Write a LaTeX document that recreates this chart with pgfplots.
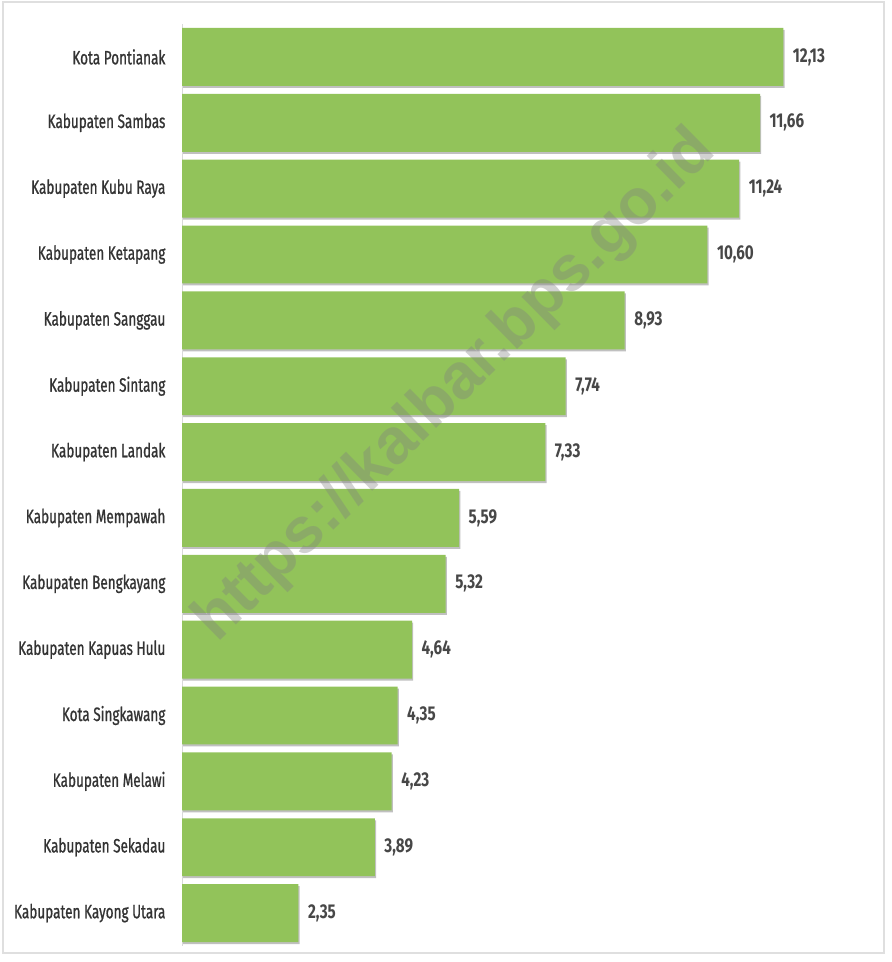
\documentclass[border=0pt]{standalone}
\usepackage{fontspec}
\usepackage{pgfplots}
\pgfplotsset{compat=1.18}
\usetikzlibrary{shadows}
\setmainfont{Fira Sans}
\newfontfamily\labfont{Fira Sans}[FakeStretch=0.70, FakeBold=0.9]
\newfontfamily\valfont{Fira Sans}[FakeStretch=0.76]
\newfontfamily\wmfont{Liberation Sans}
\definecolor{bargreen}{HTML}{92C35A}
\definecolor{labgray}{HTML}{333333}
\definecolor{valgray}{HTML}{474747}
\begin{document}
\begin{tikzpicture}
% page extent and frame (1px = 0.75pt)
\path[use as bounding box] (0,0) rectangle (668.25pt,-721.5pt);
\draw[gray!25, line width=0.8pt] (2.25pt,-1.5pt) rectangle (663pt,-714.75pt);
\begin{axis}[
  at={(136.5pt,-709.5pt)}, anchor=south west,
  scale only axis,
  width=520.5pt, height=691.5pt,
  xbar, bar width=0.88,
  xmin=0, xmax=14,
  ymin=0.5, ymax=14.5,
  y dir=reverse,
  axis lines*=left,
  x axis line style={draw=none},
  y axis line style={draw=gray!30, line width=0.6pt},
  xtick=\empty,
  ytick={1,...,14},
  yticklabels={Kota Pontianak, Kabupaten Sambas, Kabupaten Kubu Raya, Kabupaten Ketapang, Kabupaten Sanggau, Kabupaten Sintang, Kabupaten Landak, Kabupaten Mempawah, Kabupaten Bengkayang, Kabupaten Kapuas Hulu, Kota Singkawang, Kabupaten Melawi, Kabupaten Sekadau, Kabupaten Kayong Utara},
  ytick style={draw=none},
  yticklabel style={font=\labfont\fontsize{14.5pt}{16pt}\selectfont, text=labgray, anchor=east, inner sep=0pt, xshift=-8pt},
  point meta=x,
  nodes near coords={\pgfmathprintnumber[fixed,fixed zerofill,precision=2,use comma,assume math mode=true]{\pgfplotspointmeta}},
  nodes near coords style={font=\valfont\bfseries\fontsize{15pt}{17pt}\selectfont, text=valgray, anchor=west, inner sep=0pt, xshift=7pt},
  clip=false,
]
\addplot[fill=bargreen, draw=none,
  drop shadow={shadow xshift=0.9pt, shadow yshift=-1.5pt, fill=black!55, opacity=0.45}]
  coordinates {
  (12.13,1) (11.66,2) (11.24,3) (10.60,4) (8.93,5) (7.74,6) (7.33,7)
  (5.59,8) (5.32,9) (4.64,10) (4.35,11) (4.23,12) (3.89,13) (2.35,14)
  };
\end{axis}
\node[rotate=44.5, font=\wmfont\bfseries\fontsize{48pt}{50pt}\selectfont, text=black!50, opacity=0.36] at (342pt,-290pt) {https://kalbar.bps.go.id};
\end{tikzpicture}
\end{document}
